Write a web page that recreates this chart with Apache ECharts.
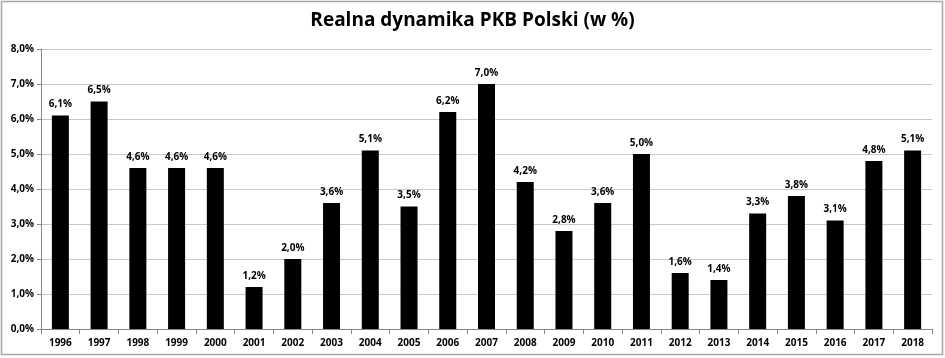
<!DOCTYPE html>
<html><head><meta charset="utf-8">
<script src="https://cdn.jsdelivr.net/npm/echarts@6/dist/echarts.min.js"></script>
<style>html,body{margin:0;padding:0;background:#fff}#c{width:945px;height:358px}</style>
</head><body><div id="c"></div>
<script>
const years = ['1996','1997','1998','1999','2000','2001','2002','2003','2004','2005','2006','2007','2008','2009','2010','2011','2012','2013','2014','2015','2016','2017','2018'];
const growth = [6.1,6.5,4.6,4.6,4.6,1.2,2.0,3.6,5.1,3.5,6.2,7.0,4.2,2.8,3.6,5.0,1.6,1.4,3.3,3.8,3.1,4.8,5.1];
const titleText = 'Realna dynamika PKB Polski (w %)';
const fmt = v => v.toFixed(1).replace('.', ',') + '%';
const chart = echarts.init(document.getElementById('c'));
const font = '"Open Sans", "Noto Sans", sans-serif';
chart.setOption({
  animation: false,
  graphic: [{type:'rect', shape:{x:1.5,y:1.5,width:941,height:353}, style:{fill:'none', stroke:'#a6a6a6', lineWidth:1.5}, silent:true}],
  title: {text: titleText, left: 'center', top: 6, textStyle:{fontFamily:font, fontSize:19, fontWeight:'bold', color:'#000'}},
  grid: {left: 41, right: 13, top: 49, bottom: 29, containLabel:false},
  xAxis: {type:'category', data: years,
    axisLine:{lineStyle:{color:'#868686'}},
    axisTick:{show:true, length:5, alignWithLabel:false, lineStyle:{color:'#868686'}},
    axisLabel:{fontFamily:font, fontSize:10, fontWeight:'bold', color:'#000', margin:9}},
  yAxis: {type:'value', min:0, max:8, interval:1,
    axisLine:{show:true, lineStyle:{color:'#868686'}},
    axisTick:{show:true, length:4, lineStyle:{color:'#868686'}},
    splitLine:{lineStyle:{color:'#c8c8c8'}},
    axisLabel:{fontFamily:font, fontSize:10, fontWeight:'bold', color:'#000', margin:7, formatter: v => fmt(v)}},
  series: [{type:'bar', data: growth, barWidth:17, itemStyle:{color:'#000'},
    label:{show:true, position:'top', distance:6, fontFamily:font, fontSize:10, fontWeight:'bold', color:'#000', formatter: p => fmt(p.value)}}]
});
</script></body></html>
